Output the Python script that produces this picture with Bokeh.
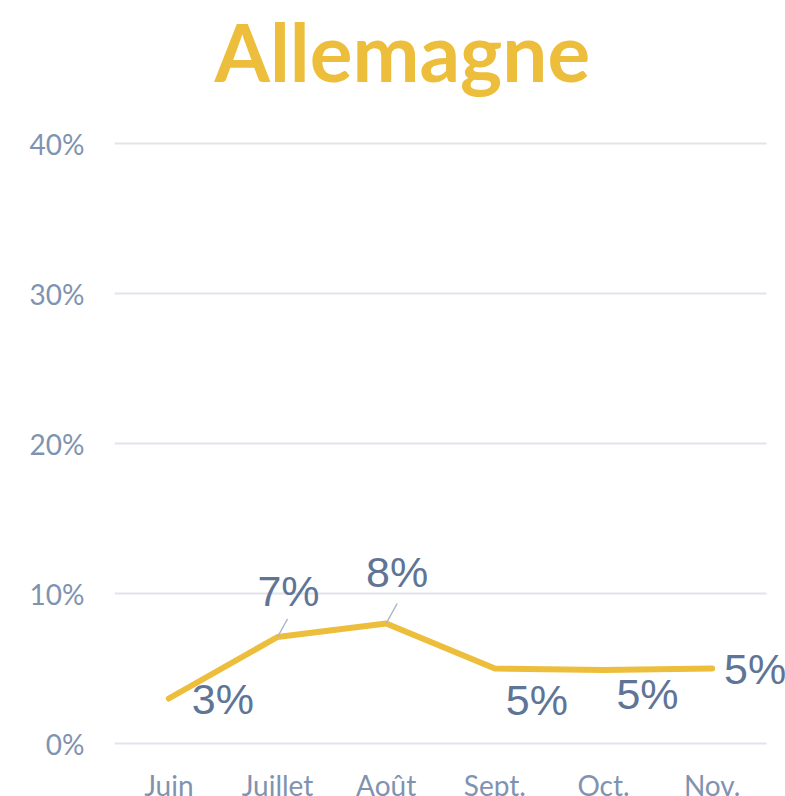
from bokeh.plotting import figure
from bokeh.models import Range1d, FixedTicker, ColumnDataSource, LabelSet, Title
from bokeh.core.properties import value
from bokeh.embed import file_html
from bokeh.resources import INLINE

# ---- data ----
months = ["Juin", "Juillet", "Août", "Sept.", "Oct.", "Nov."]
values = [3.0, 7.1, 8.0, 5.0, 4.9, 5.0]
value_labels = ["3%", "7%", "8%", "5%", "5%", "5%"]
y_ticks = [0, 10, 20, 30, 40]
y_tick_labels = ["0%", "10%", "20%", "30%", "40%"]
title_text = "Allemagne"

# ---- styling ----
GOLD = "#EDBE3C"
TICK_COL = "#7F93B0"
LABEL_COL = "#5F7596"
GRID_COL = "#E1E4EA"
LEADER_COL = "#AAB6C8"

# label offsets (pixels; dx right, dy down) per point
lab_dx = [54, 11, 11, 42, 44, 43]
lab_dy = [0, -46, -52, 31, 24, 0]
# leader lines (pixels) for points whose labels are detached
leader_dx = [0, 10, 11, 0, 0, 0]
leader_dy = [0, 18, 20, 0, 0, 0]

# geometry: 108.67 px per category, 15 px per percent
PX_X = 652 / 6
PX_Y = 15
RIGHT_PAD_PX = 19          # room right of the grid for the last label
EDGE_PAD = 0.2             # percent, so edge gridlines are not clipped
X0, XG1 = -0.5, len(months) - 0.5
X1 = XG1 + RIGHT_PAD_PX / PX_X
Y0, Y1 = y_ticks[0] - EDGE_PAD, y_ticks[-1] + EDGE_PAD
FRAME_W = int(round((X1 - X0) * PX_X))
FRAME_H = int(round((Y1 - Y0) * PX_Y))

p = figure(frame_width=FRAME_W, frame_height=FRAME_H,
           x_range=Range1d(X0, X1), y_range=Range1d(Y0, Y1),
           output_backend="svg", toolbar_location=None,
           min_border_left=114, min_border_right=0, min_border_top=140,
           min_border_bottom=0)

# spacer between title and plot frame (inner "above" panel)
p.add_layout(Title(text=" ", text_font_size="1px", standoff=39), "above")

p.title.text = title_text
p.title.text_font = "Lato"
p.title.text_font_style = "bold"
p.title.text_font_size = "80px"
p.title.text_color = GOLD
p.title.align = "left"
p.title.offset = 100
p.title.standoff = 0

# horizontal gridlines at the y ticks, spanning the category band
n = len(y_ticks)
p.segment(x0=[X0] * n, y0=y_ticks, x1=[XG1] * n, y1=y_ticks,
          line_color=GRID_COL, line_width=2)

xs = list(range(len(months)))
src = ColumnDataSource(dict(x=xs, y=values, lab=value_labels,
                            dx=lab_dx, dy=[-d for d in lab_dy]))

p.line("x", "y", source=src, line_color=GOLD, line_width=6,
       line_cap="round", line_join="round")

# leader lines
lx0, ly0, lx1, ly1 = [], [], [], []
for i, v in enumerate(values):
    if leader_dx[i] or leader_dy[i]:
        lx0.append(xs[i]); ly0.append(v)
        lx1.append(xs[i] + leader_dx[i] / PX_X)
        ly1.append(v + leader_dy[i] / PX_Y)
p.segment(lx0, ly0, lx1, ly1, line_color=LEADER_COL, line_width=1.5)

labels = LabelSet(x="x", y="y", text="lab", source=src, x_offset="dx", y_offset="dy",
                  text_align="center", text_baseline="middle",
                  text_font_size="43px", text_color=LABEL_COL,
                  text_font=value("Liberation Sans"))
p.add_layout(labels)

# axes
p.xaxis.ticker = FixedTicker(ticks=xs)
p.xaxis.major_label_overrides = {i: m for i, m in enumerate(months)}
p.yaxis.ticker = FixedTicker(ticks=y_ticks)
p.yaxis.major_label_overrides = {t: l for t, l in zip(y_ticks, y_tick_labels)}
for ax in (p.xaxis, p.yaxis):
    ax.axis_line_color = None
    ax.major_tick_line_color = None
    ax.minor_tick_line_color = None
    ax.major_tick_out = 0
    ax.major_tick_in = 0
    ax.major_label_text_font = "Lato"
    ax.major_label_text_font_size = "28px"
    ax.major_label_text_color = TICK_COL
p.xaxis.major_label_standoff = 21
p.yaxis.major_label_standoff = 30

p.xgrid.grid_line_color = None
p.ygrid.grid_line_color = None
p.outline_line_color = None
p.background_fill_color = "white"
p.border_fill_color = "white"

html = file_html(p, INLINE)
html = html.replace("</head>", "<style>html,body{overflow:hidden;}</style></head>")
open("out.html", "w").write(html)
